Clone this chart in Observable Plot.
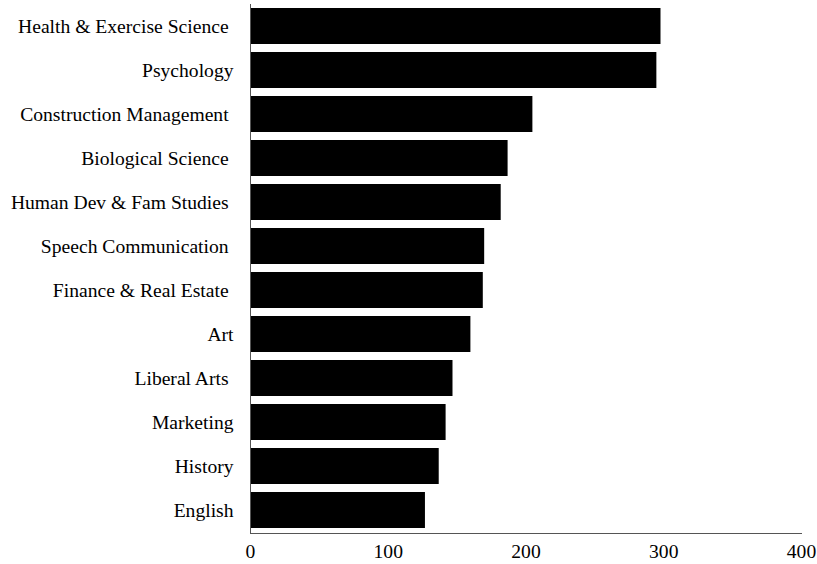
<!DOCTYPE html>
<html>
<head>
<meta charset="utf-8">
<script src="https://cdn.jsdelivr.net/npm/d3@7"></script>
<script src="https://cdn.jsdelivr.net/npm/@observablehq/plot@0.6"></script>
<style>
  html, body { margin: 0; padding: 0; background: white; }
</style>
</head>
<body>
<div id="chart"></div>
<script>
const categories = [
  "Health & Exercise Science ",
  "Psychology",
  "Construction Management ",
  "Biological Science ",
  "Human Dev & Fam Studies ",
  "Speech Communication ",
  "Finance & Real Estate ",
  "Art",
  "Liberal Arts ",
  "Marketing",
  "History",
  "English"
];
const values = [298, 295, 205, 187, 182, 170, 169, 160, 147, 142, 137, 127];
const xTicks = [0, 100, 200, 300, 400];

const data = categories.map((c, i) => ({category: c, value: values[i]}));

const chart = Plot.plot({
  width: 817,
  height: 564,
  marginLeft: 250,
  marginRight: 16,
  marginTop: 4,
  marginBottom: 31,
  style: {
    fontFamily: "'Liberation Serif', 'Times New Roman', serif",
    fontSize: "19.6px",
    whiteSpace: "pre",
    background: "white",
    color: "black"
  },
  x: {domain: [0, 400], ticks: xTicks, tickSize: 0, tickPadding: 11, label: null},
  y: {domain: categories, paddingInner: 0.18, paddingOuter: 0.09, tickSize: 0, tickPadding: 17, label: null},
  marks: [
    Plot.barX(data, {x: "value", y: "category", fill: "black"}),
    Plot.frame({anchor: "bottom", stroke: "#555"}),
    Plot.frame({anchor: "left", stroke: "#555"})
  ]
});
document.getElementById("chart").appendChild(chart);
</script>
</body>
</html>
